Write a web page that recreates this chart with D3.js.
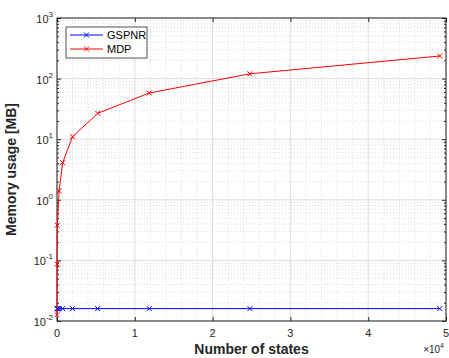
<!DOCTYPE html>
<html>
<head>
<meta charset="utf-8">
<script src="https://cdn.jsdelivr.net/npm/d3@7"></script>
<style>
  body { margin: 0; background: #fff; }
  text { font-family: "Liberation Sans", Arial, sans-serif; }
</style>
</head>
<body>
<svg id="chart" width="449" height="358"></svg>
<script>
// values
var states = [8, 40, 120, 270, 730, 2000, 5230, 11860, 24800, 49200];
var gspnrMem = [0.016, 0.016, 0.016, 0.016, 0.016, 0.016, 0.016, 0.016, 0.016, 0.016];
var mdpStates = [8, 20, 40, 270, 730, 2000, 5230, 11860, 24800, 49200];
var mdpMem = [0.0127, 0.087, 0.38, 1.4, 4.1, 11, 26.7, 57.8, 120, 236];
var xTicks = [0, 10000, 20000, 30000, 40000, 50000];
var xTickLabels = ["0", "1", "2", "3", "4", "5"];
var yTicks = [0.01, 0.1, 1, 10, 100, 1000];
var yExp = ["-2", "-1", "0", "1", "2", "3"];
var seriesNames = ["GSPNR", "MDP"];
var seriesColors = ["#0000ff", "#ff0000"];

var dims = { width: 449, height: 358, margin: { top: 18, right: 3, bottom: 37, left: 57 } };
var x0 = dims.margin.left, x1 = dims.width - dims.margin.right;
var y0 = dims.height - dims.margin.bottom, y1 = dims.margin.top;

var svg = d3.select("#chart");

var xScale = d3.scaleLinear().domain([0, 50000]).range([x0, x1]);
var yScale = d3.scaleLog().domain([0.01, 1000]).range([y0, y1]);

// minor grid
var xMinor = d3.range(0, 50001, 2000).filter(function(v) { return v % 10000 != 0; });
var yMinor = [];
yTicks.slice(0, -1).forEach(function(d) {
  for (var k = 2; k <= 9; k++) yMinor.push(d * k);
});

var grid = svg.append("g");
grid.selectAll(".xminor").data(xMinor).enter().append("line")
  .attr("x1", d => xScale(d)).attr("x2", d => xScale(d))
  .attr("y1", y0).attr("y2", y1)
  .attr("stroke", "#d4d4d4").attr("stroke-width", 0.8).attr("stroke-dasharray", "1,2");
grid.selectAll(".yminor").data(yMinor).enter().append("line")
  .attr("x1", x0).attr("x2", x1)
  .attr("y1", d => yScale(d)).attr("y2", d => yScale(d))
  .attr("stroke", "#d4d4d4").attr("stroke-width", 0.8).attr("stroke-dasharray", "1,2");
grid.selectAll(".xmajor").data(xTicks).enter().append("line")
  .attr("x1", d => xScale(d)).attr("x2", d => xScale(d))
  .attr("y1", y0).attr("y2", y1)
  .attr("stroke", "#dedede").attr("stroke-width", 1);
grid.selectAll(".ymajor").data(yTicks).enter().append("line")
  .attr("x1", x0).attr("x2", x1)
  .attr("y1", d => yScale(d)).attr("y2", d => yScale(d))
  .attr("stroke", "#dedede").attr("stroke-width", 1);

// axes (ticks pointing inward, box on all sides)
var axisColor = "#262626";
function styleAxis(g) {
  g.select(".domain").remove();
  g.selectAll(".tick line").attr("stroke", axisColor);
  g.selectAll(".tick text").remove();
}
svg.append("g").attr("transform", `translate(0,${y0})`)
  .call(d3.axisBottom(xScale).tickValues(xTicks).tickSizeInner(-4).tickSizeOuter(0)).call(styleAxis);
svg.append("g").attr("transform", `translate(0,${y1})`)
  .call(d3.axisTop(xScale).tickValues(xTicks).tickSizeInner(-4).tickSizeOuter(0)).call(styleAxis);
svg.append("g").attr("transform", `translate(${x0},0)`)
  .call(d3.axisLeft(yScale).tickValues(yTicks).tickSizeInner(-4).tickSizeOuter(0)).call(styleAxis);
svg.append("g").attr("transform", `translate(${x1},0)`)
  .call(d3.axisRight(yScale).tickValues(yTicks).tickSizeInner(-4).tickSizeOuter(0)).call(styleAxis);
svg.append("g").attr("transform", `translate(${x0},0)`)
  .call(d3.axisLeft(yScale).tickValues(yMinor).tickSizeInner(-2).tickSizeOuter(0)).call(styleAxis);
svg.append("g").attr("transform", `translate(${x1},0)`)
  .call(d3.axisRight(yScale).tickValues(yMinor).tickSizeInner(-2).tickSizeOuter(0)).call(styleAxis);

svg.append("rect")
  .attr("x", x0).attr("y", y1)
  .attr("width", x1 - x0).attr("height", y0 - y1)
  .attr("fill", "none").attr("stroke", axisColor).attr("stroke-width", 1);

// tick labels
svg.selectAll(".xlab").data(xTicks).enter().append("text")
  .attr("x", d => xScale(d)).attr("y", y0 + 16)
  .attr("text-anchor", "middle").style("font-size", "11px").attr("fill", axisColor)
  .text((d, i) => xTickLabels[i]);

var ylab = svg.selectAll(".ylab").data(yTicks).enter().append("text")
  .attr("x", x0 - 4).attr("y", d => yScale(d) + 5)
  .attr("text-anchor", "end").style("font-size", "11px").attr("fill", axisColor);
ylab.append("tspan").text("10");
ylab.append("tspan").attr("dy", -6).style("font-size", "8px").text((d, i) => yExp[i]);

var mult = svg.append("text")
  .attr("x", x1 - 2).attr("y", y0 + 32)
  .attr("text-anchor", "end").style("font-size", "10px").attr("fill", axisColor);
mult.append("tspan").text("\u00d710");
mult.append("tspan").attr("dy", -5).style("font-size", "7px").text("4");

// axis titles
svg.append("text")
  .attr("x", (x0 + x1) / 2).attr("y", dims.height - 4)
  .attr("text-anchor", "middle").style("font-size", "14px").style("font-weight", "bold")
  .attr("fill", axisColor).text("Number of states");
svg.append("text")
  .attr("transform", `translate(16,${(y0 + y1) / 2}) rotate(-90)`)
  .attr("text-anchor", "middle").style("font-size", "14px").style("font-weight", "bold")
  .attr("fill", axisColor).text("Memory usage [MB]");

// series
var series = [
  { name: seriesNames[0], color: seriesColors[0], xs: states, ys: gspnrMem },
  { name: seriesNames[1], color: seriesColors[1], xs: mdpStates, ys: mdpMem }
];
var line = d3.line().x(d => xScale(d[0])).y(d => yScale(d[1]));

function drawX(g, cx, cy, color) {
  var s = 2.5;
  g.append("path")
    .attr("d", `M${cx - s},${cy - s}L${cx + s},${cy + s}M${cx - s},${cy + s}L${cx + s},${cy - s}`)
    .attr("stroke", color).attr("stroke-width", 1).attr("fill", "none");
}

series.forEach(function(s) {
  var pts = s.xs.map((v, i) => [v, s.ys[i]]);
  var g = svg.append("g");
  g.append("path").datum(pts).attr("d", line)
    .attr("fill", "none").attr("stroke", s.color).attr("stroke-width", 1);
  pts.forEach(p => drawX(g, xScale(p[0]), yScale(p[1]), s.color));
});

// legend
var legend = svg.append("g").attr("transform", "translate(66,27)");
legend.append("rect").attr("width", 81).attr("height", 31)
  .attr("fill", "#fff").attr("stroke", axisColor).attr("stroke-width", 0.8);
series.forEach(function(s, i) {
  var ly = 8 + i * 14;
  legend.append("line").attr("x1", 4).attr("x2", 37).attr("y1", ly).attr("y2", ly)
    .attr("stroke", s.color).attr("stroke-width", 1);
  drawX(legend, 20.5, ly, s.color);
  legend.append("text").attr("x", 41).attr("y", ly + 4)
    .style("font-size", "11px").attr("fill", "#000").text(s.name);
});
</script>
</body>
</html>
